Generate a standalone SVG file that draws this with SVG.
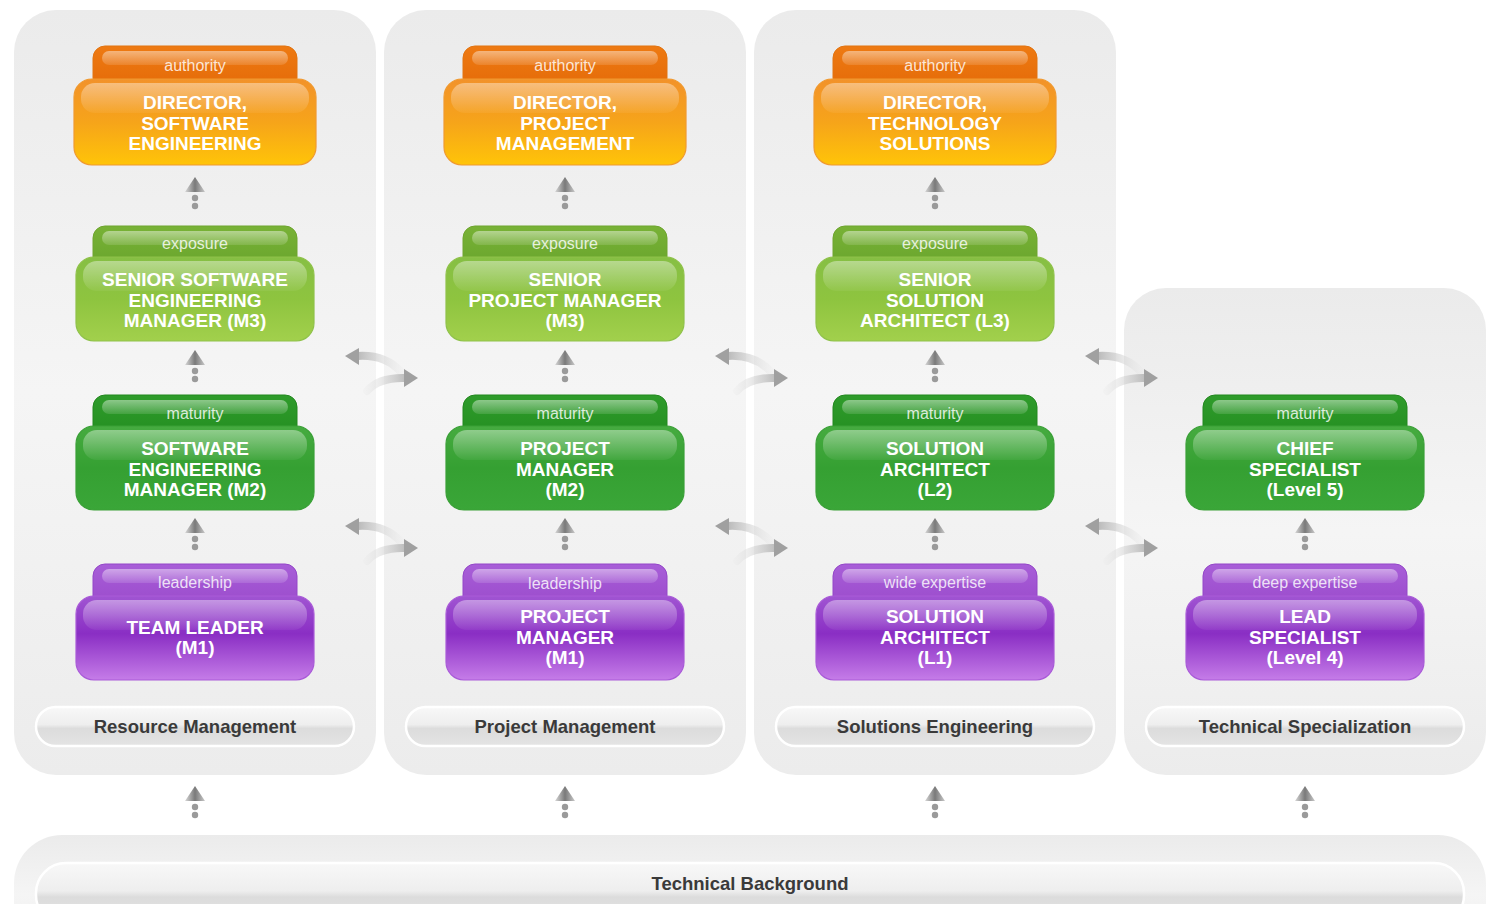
<svg xmlns="http://www.w3.org/2000/svg" xmlns:xlink="http://www.w3.org/1999/xlink" width="1498" height="904" viewBox="0 0 1498 904">
<defs>
<style>
.panel{fill:url(#gPanel);}
.pill{fill:url(#gPill);stroke:#ffffff;stroke-width:2.5;}
.plabel{font-family:"Liberation Sans",Arial,sans-serif;font-weight:bold;font-size:18.5px;fill:#3a3a3a;text-anchor:middle;}
.tl{font-family:"Liberation Sans",Arial,sans-serif;font-size:16px;fill:#ffffff;fill-opacity:0.82;text-anchor:middle;}
.bt{font-family:"Liberation Sans",Arial,sans-serif;font-weight:bold;font-size:19px;fill:#ffffff;text-anchor:middle;}
.tabhl{fill:url(#gHl);}
.bodyhl{fill:url(#gHl2);}
.or .tab{fill:url(#gOrTab);stroke:#e27410;stroke-width:1;}
.or .body{fill:url(#gOrBody);stroke:#f09a30;stroke-width:1.2;}
.lg .tab{fill:url(#gLgTab);stroke:#6ea52e;stroke-width:1;}
.lg .body{fill:url(#gLgBody);stroke:#8fc24a;stroke-width:1.2;}
.gr .tab{fill:url(#gGrTab);stroke:#23881f;stroke-width:1;}
.gr .body{fill:url(#gGrBody);stroke:#3aa037;stroke-width:1.2;}
.pu .tab{fill:url(#gPuTab);stroke:#9446c8;stroke-width:1;}
.pu .body{fill:url(#gPuBody);stroke:#a95ad8;stroke-width:1.2;}
.dot{fill:#9a9a9a;}
.cone{fill:url(#gCone);}
</style>
<linearGradient id="gPanel" x1="0" y1="0" x2="0" y2="1">
<stop offset="0" stop-color="#ebebeb"/><stop offset="0.5" stop-color="#f5f5f5"/><stop offset="1" stop-color="#ececec"/>
</linearGradient>
<linearGradient id="gPill" x1="0" y1="0" x2="0" y2="1">
<stop offset="0" stop-color="#f8f8f8"/><stop offset="0.45" stop-color="#eeeeee"/><stop offset="0.55" stop-color="#dcdcdc"/><stop offset="1" stop-color="#e4e4e4"/>
</linearGradient>
<linearGradient id="gHl" x1="0" y1="0" x2="0" y2="1">
<stop offset="0" stop-color="#ffffff" stop-opacity="0.45"/><stop offset="1" stop-color="#ffffff" stop-opacity="0.12"/>
</linearGradient>
<linearGradient id="gHl2" x1="0" y1="0" x2="0" y2="1">
<stop offset="0" stop-color="#ffffff" stop-opacity="0.40"/><stop offset="1" stop-color="#ffffff" stop-opacity="0.05"/>
</linearGradient>
<linearGradient id="gOrTab" x1="0" y1="0" x2="0" y2="1">
<stop offset="0" stop-color="#ee7a12"/><stop offset="1" stop-color="#e46a08"/>
</linearGradient>
<linearGradient id="gOrBody" x1="0" y1="0" x2="0" y2="1">
<stop offset="0" stop-color="#f2922a"/><stop offset="0.5" stop-color="#f6a41a"/><stop offset="1" stop-color="#ffc408"/>
</linearGradient>
<linearGradient id="gLgTab" x1="0" y1="0" x2="0" y2="1">
<stop offset="0" stop-color="#78b236"/><stop offset="1" stop-color="#68a42c"/>
</linearGradient>
<linearGradient id="gLgBody" x1="0" y1="0" x2="0" y2="1">
<stop offset="0" stop-color="#86bf44"/><stop offset="0.5" stop-color="#8ec43f"/><stop offset="1" stop-color="#a2d04c"/>
</linearGradient>
<linearGradient id="gGrTab" x1="0" y1="0" x2="0" y2="1">
<stop offset="0" stop-color="#2f9c2b"/><stop offset="1" stop-color="#238d20"/>
</linearGradient>
<linearGradient id="gGrBody" x1="0" y1="0" x2="0" y2="1">
<stop offset="0" stop-color="#46ab40"/><stop offset="0.5" stop-color="#35a032"/><stop offset="1" stop-color="#3aa638"/>
</linearGradient>
<linearGradient id="gPuTab" x1="0" y1="0" x2="0" y2="1">
<stop offset="0" stop-color="#a85ed8"/><stop offset="1" stop-color="#9a4acb"/>
</linearGradient>
<linearGradient id="gPuBody" x1="0" y1="0" x2="0" y2="1">
<stop offset="0" stop-color="#a055d2"/><stop offset="0.45" stop-color="#8a2ec4"/><stop offset="1" stop-color="#c57ce8"/>
</linearGradient>
<linearGradient id="gCone" x1="0" y1="0" x2="1" y2="0">
<stop offset="0" stop-color="#d8d8d8"/><stop offset="0.5" stop-color="#7a7a7a"/><stop offset="1" stop-color="#c8c8c8"/>
</linearGradient>
<linearGradient id="gSwapL" gradientUnits="userSpaceOnUse" x1="0" y1="0" x2="58" y2="0">
<stop offset="0" stop-color="#9c9c9c"/><stop offset="1" stop-color="#e8e8e8" stop-opacity="0.2"/>
</linearGradient>
<linearGradient id="gSwapR" gradientUnits="userSpaceOnUse" x1="18" y1="0" x2="74" y2="0">
<stop offset="0" stop-color="#e8e8e8" stop-opacity="0.2"/><stop offset="1" stop-color="#9c9c9c"/>
</linearGradient>
<g id="up">
<polygon class="cone" points="0,0 -10,15 10,15"/>
<circle class="dot" cx="0" cy="21" r="3.2"/>
<circle class="dot" cx="0" cy="29" r="3.2"/>
</g>
<g id="swap">
<path d="M 12 11 Q 40 9 56 27" fill="none" stroke="url(#gSwapL)" stroke-width="8" stroke-linecap="round"/>
<polygon points="0,11 14,3 14,20" fill="#a0a0a0"/>
<path d="M 22 46 Q 34 32 61 33" fill="none" stroke="url(#gSwapR)" stroke-width="8" stroke-linecap="round"/>
<polygon points="73,33 59,24 59,42" fill="#a0a0a0"/>
</g>
</defs>

<rect x="0" y="0" width="1498" height="904" fill="#ffffff"/>

<g id="panels">
<rect id="panel-rm" class="panel" x="14" y="10" width="362" height="765" rx="42"/>
<rect id="panel-pm" class="panel" x="384" y="10" width="362" height="765" rx="42"/>
<rect id="panel-se" class="panel" x="754" y="10" width="362" height="765" rx="42"/>
<rect id="panel-ts" class="panel" x="1124" y="288" width="362" height="487" rx="42"/>
<rect id="panel-tb" class="panel" x="14" y="835" width="1472" height="120" rx="48"/>
</g>

<g id="labels">
<g id="lab-rm"><rect class="pill" x="36" y="707" width="318" height="39" rx="19.5"/><text class="plabel" x="195" y="733">Resource Management</text></g>
<g id="lab-pm"><rect class="pill" x="406" y="707" width="318" height="39" rx="19.5"/><text class="plabel" x="565" y="733">Project Management</text></g>
<g id="lab-se"><rect class="pill" x="776" y="707" width="318" height="39" rx="19.5"/><text class="plabel" x="935" y="733">Solutions Engineering</text></g>
<g id="lab-ts"><rect class="pill" x="1146" y="707" width="318" height="39" rx="19.5"/><text class="plabel" x="1305" y="733">Technical Specialization</text></g>
<g id="lab-tb"><rect class="pill" x="36" y="863" width="1428" height="62" rx="30"/><text class="plabel" x="750" y="890">Technical Background</text></g>
</g>

<g id="connectors">
<use xlink:href="#up" x="195" y="177"/><use xlink:href="#up" x="195" y="350"/><use xlink:href="#up" x="195" y="518"/><use xlink:href="#up" x="195" y="786"/>
<use xlink:href="#up" x="565" y="177"/><use xlink:href="#up" x="565" y="350"/><use xlink:href="#up" x="565" y="518"/><use xlink:href="#up" x="565" y="786"/>
<use xlink:href="#up" x="935" y="177"/><use xlink:href="#up" x="935" y="350"/><use xlink:href="#up" x="935" y="518"/><use xlink:href="#up" x="935" y="786"/>
<use xlink:href="#up" x="1305" y="518"/><use xlink:href="#up" x="1305" y="786"/>
<use xlink:href="#swap" x="345" y="345"/><use xlink:href="#swap" x="345" y="515"/>
<use xlink:href="#swap" x="715" y="345"/><use xlink:href="#swap" x="715" y="515"/>
<use xlink:href="#swap" x="1085" y="345"/><use xlink:href="#swap" x="1085" y="515"/>
</g>

<!-- Column 1 -->
<g id="n-dir-se" class="or" transform="translate(195,46)">
<rect class="tab" x="-102" y="0" width="204" height="44" rx="12"/><rect class="tabhl" x="-93" y="5" width="186" height="14" rx="7"/>
<text class="tl" x="0" y="25">authority</text>
<rect class="body" x="-121" y="33" width="242" height="86" rx="18"/><rect class="bodyhl" x="-114" y="37" width="228" height="30" rx="14"/>
<text class="bt" x="0" y="63">DIRECTOR,</text><text class="bt" x="0" y="83.5">SOFTWARE</text><text class="bt" x="0" y="104">ENGINEERING</text>
</g>
<g id="n-ssem" class="lg" transform="translate(195,226)">
<rect class="tab" x="-102" y="0" width="204" height="44" rx="12"/><rect class="tabhl" x="-93" y="5" width="186" height="14" rx="7"/>
<text class="tl" x="0" y="23">exposure</text>
<rect class="body" x="-119" y="31" width="238" height="84" rx="18"/><rect class="bodyhl" x="-112" y="35" width="224" height="30" rx="14"/>
<text class="bt" x="0" y="60">SENIOR SOFTWARE</text><text class="bt" x="0" y="80.5">ENGINEERING</text><text class="bt" x="0" y="101">MANAGER (M3)</text>
</g>
<g id="n-sem" class="gr" transform="translate(195,395)">
<rect class="tab" x="-102" y="0" width="204" height="44" rx="12"/><rect class="tabhl" x="-93" y="5" width="186" height="14" rx="7"/>
<text class="tl" x="0" y="24">maturity</text>
<rect class="body" x="-119" y="31" width="238" height="84" rx="18"/><rect class="bodyhl" x="-112" y="35" width="224" height="30" rx="14"/>
<text class="bt" x="0" y="60">SOFTWARE</text><text class="bt" x="0" y="80.5">ENGINEERING</text><text class="bt" x="0" y="101">MANAGER (M2)</text>
</g>
<g id="n-tl" class="pu" transform="translate(195,564)">
<rect class="tab" x="-102" y="0" width="204" height="44" rx="12"/><rect class="tabhl" x="-93" y="5" width="186" height="14" rx="7"/>
<text class="tl" x="0" y="24">leadership</text>
<rect class="body" x="-119" y="32" width="238" height="84" rx="18"/><rect class="bodyhl" x="-112" y="36" width="224" height="30" rx="14"/>
<text class="bt" x="0" y="70">TEAM LEADER</text><text class="bt" x="0" y="90">(M1)</text>
</g>

<!-- Column 2 -->
<g id="n-dir-pm" class="or" transform="translate(565,46)">
<rect class="tab" x="-102" y="0" width="204" height="44" rx="12"/><rect class="tabhl" x="-93" y="5" width="186" height="14" rx="7"/>
<text class="tl" x="0" y="25">authority</text>
<rect class="body" x="-121" y="33" width="242" height="86" rx="18"/><rect class="bodyhl" x="-114" y="37" width="228" height="30" rx="14"/>
<text class="bt" x="0" y="63">DIRECTOR,</text><text class="bt" x="0" y="83.5">PROJECT</text><text class="bt" x="0" y="104">MANAGEMENT</text>
</g>
<g id="n-spm" class="lg" transform="translate(565,226)">
<rect class="tab" x="-102" y="0" width="204" height="44" rx="12"/><rect class="tabhl" x="-93" y="5" width="186" height="14" rx="7"/>
<text class="tl" x="0" y="23">exposure</text>
<rect class="body" x="-119" y="31" width="238" height="84" rx="18"/><rect class="bodyhl" x="-112" y="35" width="224" height="30" rx="14"/>
<text class="bt" x="0" y="60">SENIOR</text><text class="bt" x="0" y="80.5">PROJECT MANAGER</text><text class="bt" x="0" y="101">(M3)</text>
</g>
<g id="n-pm2" class="gr" transform="translate(565,395)">
<rect class="tab" x="-102" y="0" width="204" height="44" rx="12"/><rect class="tabhl" x="-93" y="5" width="186" height="14" rx="7"/>
<text class="tl" x="0" y="24">maturity</text>
<rect class="body" x="-119" y="31" width="238" height="84" rx="18"/><rect class="bodyhl" x="-112" y="35" width="224" height="30" rx="14"/>
<text class="bt" x="0" y="60">PROJECT</text><text class="bt" x="0" y="80.5">MANAGER</text><text class="bt" x="0" y="101">(M2)</text>
</g>
<g id="n-pm1" class="pu" transform="translate(565,564)">
<rect class="tab" x="-102" y="0" width="204" height="44" rx="12"/><rect class="tabhl" x="-93" y="5" width="186" height="14" rx="7"/>
<text class="tl" x="0" y="25">leadership</text>
<rect class="body" x="-119" y="32" width="238" height="84" rx="18"/><rect class="bodyhl" x="-112" y="36" width="224" height="30" rx="14"/>
<text class="bt" x="0" y="59">PROJECT</text><text class="bt" x="0" y="79.5">MANAGER</text><text class="bt" x="0" y="100">(M1)</text>
</g>

<!-- Column 3 -->
<g id="n-dir-ts" class="or" transform="translate(935,46)">
<rect class="tab" x="-102" y="0" width="204" height="44" rx="12"/><rect class="tabhl" x="-93" y="5" width="186" height="14" rx="7"/>
<text class="tl" x="0" y="25">authority</text>
<rect class="body" x="-121" y="33" width="242" height="86" rx="18"/><rect class="bodyhl" x="-114" y="37" width="228" height="30" rx="14"/>
<text class="bt" x="0" y="63">DIRECTOR,</text><text class="bt" x="0" y="83.5">TECHNOLOGY</text><text class="bt" x="0" y="104">SOLUTIONS</text>
</g>
<g id="n-sa3" class="lg" transform="translate(935,226)">
<rect class="tab" x="-102" y="0" width="204" height="44" rx="12"/><rect class="tabhl" x="-93" y="5" width="186" height="14" rx="7"/>
<text class="tl" x="0" y="23">exposure</text>
<rect class="body" x="-119" y="31" width="238" height="84" rx="18"/><rect class="bodyhl" x="-112" y="35" width="224" height="30" rx="14"/>
<text class="bt" x="0" y="60">SENIOR</text><text class="bt" x="0" y="80.5">SOLUTION</text><text class="bt" x="0" y="101">ARCHITECT (L3)</text>
</g>
<g id="n-sa2" class="gr" transform="translate(935,395)">
<rect class="tab" x="-102" y="0" width="204" height="44" rx="12"/><rect class="tabhl" x="-93" y="5" width="186" height="14" rx="7"/>
<text class="tl" x="0" y="24">maturity</text>
<rect class="body" x="-119" y="31" width="238" height="84" rx="18"/><rect class="bodyhl" x="-112" y="35" width="224" height="30" rx="14"/>
<text class="bt" x="0" y="60">SOLUTION</text><text class="bt" x="0" y="80.5">ARCHITECT</text><text class="bt" x="0" y="101">(L2)</text>
</g>
<g id="n-sa1" class="pu" transform="translate(935,564)">
<rect class="tab" x="-102" y="0" width="204" height="44" rx="12"/><rect class="tabhl" x="-93" y="5" width="186" height="14" rx="7"/>
<text class="tl" x="0" y="24">wide expertise</text>
<rect class="body" x="-119" y="32" width="238" height="84" rx="18"/><rect class="bodyhl" x="-112" y="36" width="224" height="30" rx="14"/>
<text class="bt" x="0" y="59">SOLUTION</text><text class="bt" x="0" y="79.5">ARCHITECT</text><text class="bt" x="0" y="100">(L1)</text>
</g>

<!-- Column 4 -->
<g id="n-cs" class="gr" transform="translate(1305,395)">
<rect class="tab" x="-102" y="0" width="204" height="44" rx="12"/><rect class="tabhl" x="-93" y="5" width="186" height="14" rx="7"/>
<text class="tl" x="0" y="24">maturity</text>
<rect class="body" x="-119" y="31" width="238" height="84" rx="18"/><rect class="bodyhl" x="-112" y="35" width="224" height="30" rx="14"/>
<text class="bt" x="0" y="60">CHIEF</text><text class="bt" x="0" y="80.5">SPECIALIST</text><text class="bt" x="0" y="101">(Level 5)</text>
</g>
<g id="n-ls" class="pu" transform="translate(1305,564)">
<rect class="tab" x="-102" y="0" width="204" height="44" rx="12"/><rect class="tabhl" x="-93" y="5" width="186" height="14" rx="7"/>
<text class="tl" x="0" y="24">deep expertise</text>
<rect class="body" x="-119" y="32" width="238" height="84" rx="18"/><rect class="bodyhl" x="-112" y="36" width="224" height="30" rx="14"/>
<text class="bt" x="0" y="59">LEAD</text><text class="bt" x="0" y="79.5">SPECIALIST</text><text class="bt" x="0" y="100">(Level 4)</text>
</g>
</svg>
